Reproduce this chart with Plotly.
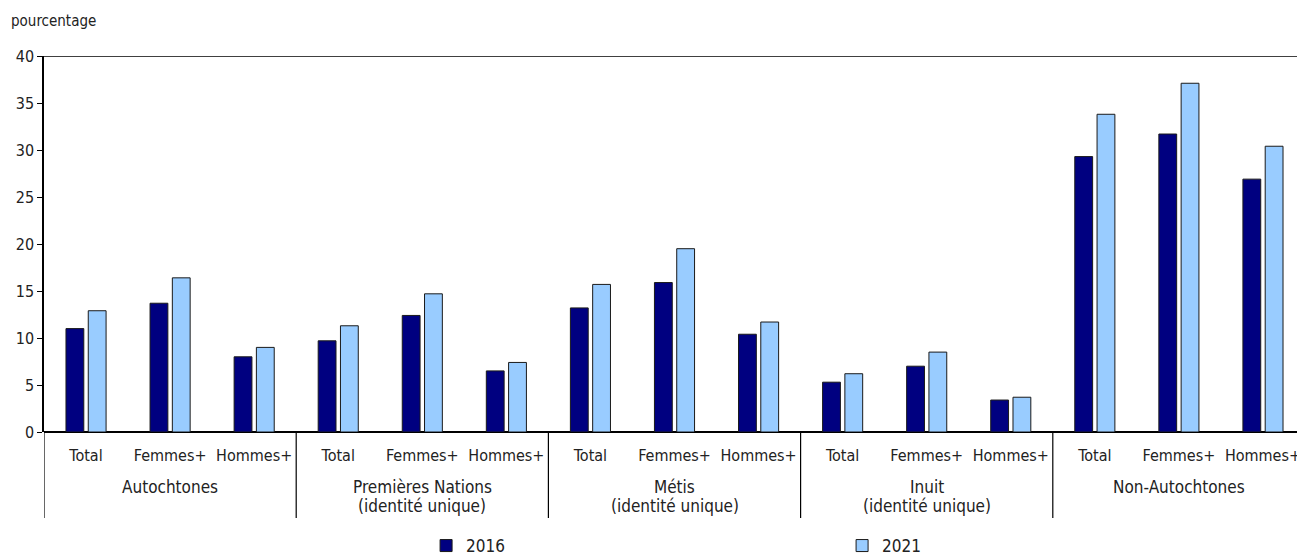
import plotly.graph_objects as go

FONT = "DejaVu Sans Condensed, Liberation Sans Narrow, Roboto, sans-serif"

groups = ["Autochtones", "Premières Nations<br>(identité unique)", "Métis<br>(identité unique)",
          "Inuit<br>(identité unique)", "Non-Autochtones"]
subcats = ["Total", "Femmes+", "Hommes+"]

v2016 = [11.0, 13.7, 8.0, 9.7, 12.4, 6.5, 13.2, 15.9, 10.4, 5.3, 7.0, 3.4, 29.3, 31.7, 26.9]
v2021 = [12.9, 16.4, 9.0, 11.3, 14.7, 7.4, 15.7, 19.5, 11.7, 6.2, 8.5, 3.7, 33.8, 37.1, 30.4]

x = list(range(len(v2016)))
ticktext = subcats * len(groups)

fig = go.Figure()
fig.add_trace(go.Bar(x=x, y=v2016, name="2016",
                     marker=dict(color="#000080", line=dict(color="#1a1a1a", width=1))))
fig.add_trace(go.Bar(x=x, y=v2021, name="2021",
                     marker=dict(color="#99CCFF", line=dict(color="#1a1a1a", width=1))))

# top border at 40
fig.add_shape(type="line", xref="paper", yref="y", x0=0, x1=1, y0=40, y1=40,
              line=dict(color="black", width=1.5))
# group separators below the axis (left axis line continues down too)
for i in range(len(groups)):
    fig.add_shape(type="line", xref="x", yref="paper", x0=i * 3 - 0.5, x1=i * 3 - 0.5,
                  y0=0, y1=-0.229, line=dict(color="black", width=1.2))
# group labels, one annotation per line to keep tight line spacing
for i, g in enumerate(groups):
    for j, line in enumerate(g.split("<br>")):
        fig.add_annotation(x=i * 3 + 1, y=-0.146 - j * 0.051, xref="x", yref="paper", text=line,
                           showarrow=False, yanchor="middle", font=dict(size=17, color="#222"))

fig.add_annotation(x=0, y=1, xref="paper", yref="paper", text="pourcentage",
                   xshift=-35, yshift=24, xanchor="left", yanchor="bottom",
                   showarrow=False, font=dict(size=15, color="#222"))

# page body adds an 8px offset, so the figure is shifted and a bit narrower
fig.update_layout(
    width=1297, height=556,
    margin=dict(l=36, r=0, t=48, b=132),
    paper_bgcolor="white", plot_bgcolor="white",
    font=dict(family=FONT, size=15, color="#222"),
    barmode="group", bargap=0.47, bargroupgap=0.2,
    showlegend=True,
    legend=dict(orientation="h", x=0.303, xanchor="left", yref="container", y=-0.0173, yanchor="bottom",
                entrywidth=371, entrywidthmode="pixels", font=dict(size=17),
                itemwidth=30, traceorder="normal"),
    xaxis=dict(tickmode="array", tickvals=x, ticktext=ticktext, range=[-0.5, 14.5],
               showline=False, ticks="", showgrid=False, zeroline=False, automargin=False,
               ticklabelstandoff=12, tickfont=dict(size=16)),
    yaxis=dict(range=[0, 40], dtick=5, showgrid=False, zeroline=True, zerolinecolor="black",
               zerolinewidth=1.5, showline=True, linecolor="black", linewidth=1.5, automargin=False,
               ticks="outside", ticklen=5, tickcolor="black", tickfont=dict(size=16)),
)

fig.write_html("out.html")
